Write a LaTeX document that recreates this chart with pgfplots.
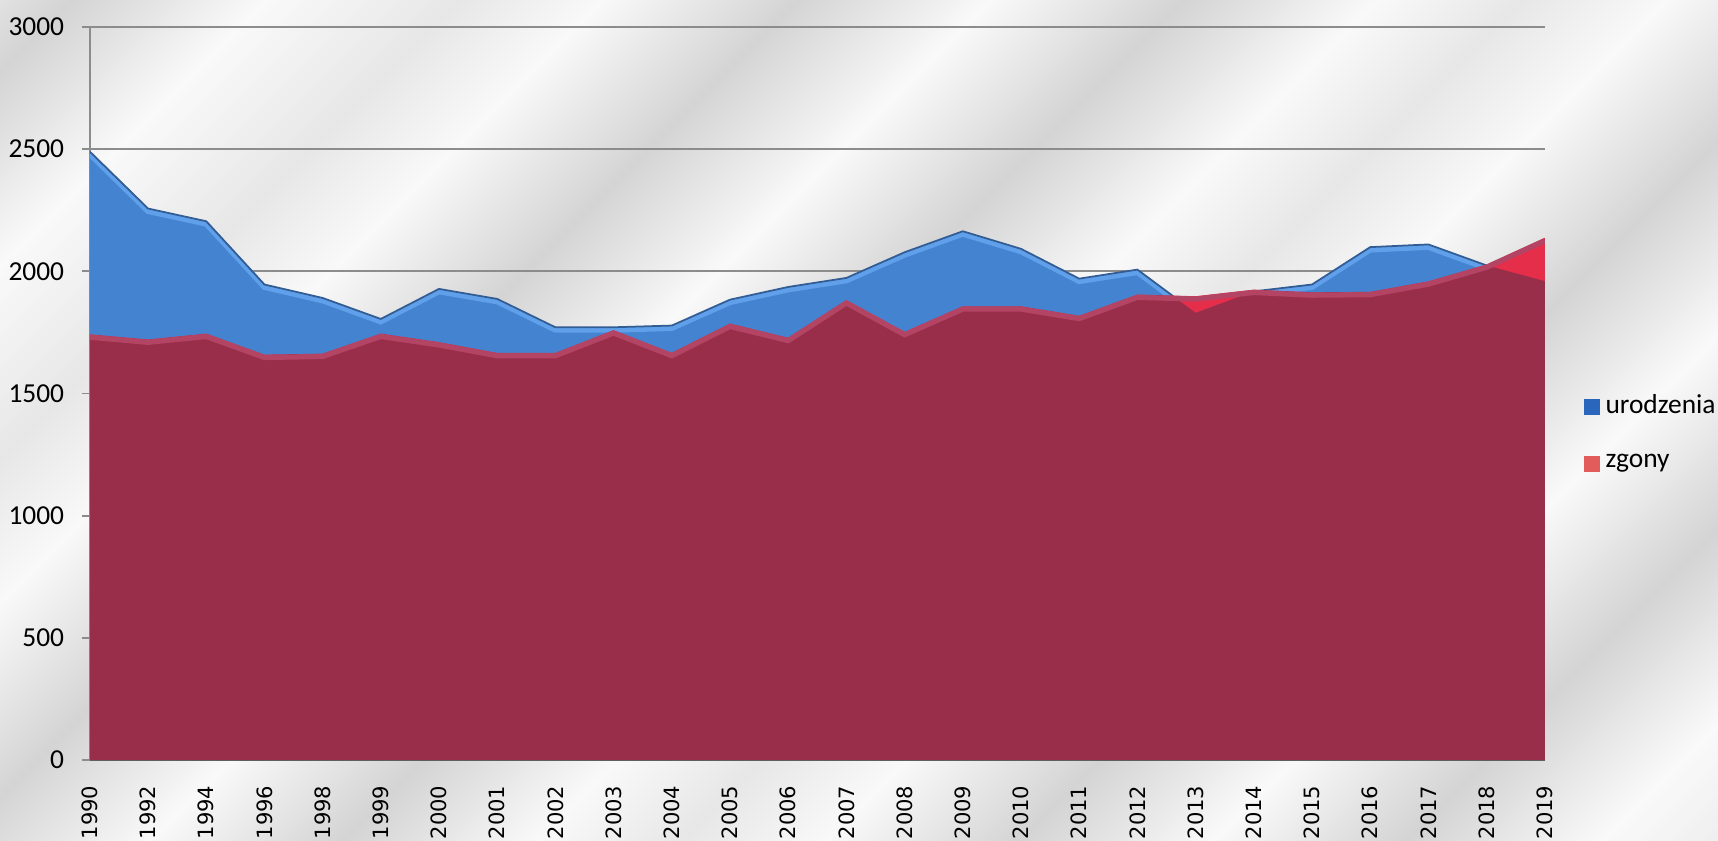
\documentclass[border=0pt]{standalone}
\usepackage{fontspec}
\setmainfont{Carlito}
\newfontfamily\dejavu{DejaVu Sans}
\usepackage{pgfplots}
\usepackage{pgfplotstable}
\pgfplotsset{compat=1.18}

\definecolor{bluearea}{RGB}{67,131,208}
\definecolor{bluehl}{RGB}{96,160,234}
\definecolor{blueedge}{RGB}{50,92,148}
\definecolor{redover}{RGB}{228,46,74}
\definecolor{darkmask}{RGB}{152,255,255}
\definecolor{redhl}{RGB}{180,68,100}
\definecolor{gridgray}{RGB}{140,140,140}
\definecolor{axisdark}{RGB}{95,95,95}
\definecolor{lgblue}{RGB}{42,102,188}
\definecolor{lgred}{RGB}{226,92,92}
\definecolor{bgL}{RGB}{249,249,249}
\definecolor{bgM}{RGB}{231,231,231}
\definecolor{bgD}{RGB}{212,212,212}

\pgfdeclarehorizontalshading{streaks}{100bp}{color(0bp)=(bgM); color(18bp)=(bgM);
  color(21bp)=(bgL); color(25bp)=(bgD); color(29bp)=(bgL); color(33bp)=(bgM);
  color(36bp)=(bgL); color(40bp)=(bgD); color(44bp)=(bgL); color(48bp)=(bgD);
  color(52bp)=(bgL); color(55bp)=(bgM); color(58bp)=(bgL); color(62bp)=(bgD);
  color(66bp)=(bgL); color(70bp)=(bgD); color(74bp)=(bgL); color(78bp)=(bgM);
  color(82bp)=(bgD); color(100bp)=(bgM)}

% urodzenia / zgony, years 1990..2019 as index 0..25
\pgfplotstableread{
x  ur   zg
0  2490 1742
1  2257 1721
2  2205 1745
3  1946 1659
4  1891 1663
5  1805 1745
6  1928 1710
7  1887 1666
8  1771 1666
9  1771 1759
10 1778 1666
11 1884 1786
12 1936 1728
13 1973 1882
14 2078 1752
15 2164 1857
16 2092 1857
17 1970 1818
18 2007 1905
19 1830 1898
20 1918 1925
21 1946 1914
22 2099 1916
23 2110 1959
24 2024 2028
25 1960 2137
}\data

\begin{document}
\begin{tikzpicture}
\begin{scope}
  \clip (0,0) rectangle (17.18,8.41);
  \shade[shading=streaks, shading angle=-45] (0,-4.4) rectangle (17.18,12.8);
\end{scope}
\path[use as bounding box] (0,0) rectangle (17.18,8.41);
\begin{axis}[
    at={(0.898cm,0.81cm)}, anchor=south west,
    width=14.55cm, height=7.33cm, scale only axis,
    xmin=0, xmax=25, ymin=0, ymax=3000,
    xtick=data,
    xticklabels={1990,1992,1994,1996,1998,1999,2000,2001,2002,2003,2004,2005,2006,2007,2008,2009,2010,2011,2012,2013,2014,2015,2016,2017,2018,2019},
    ytick={0,500,1000,1500,2000,2500,3000},
    axis x line*=bottom, axis y line*=left,
    ymajorgrids, grid style={draw=gridgray, line width=0.5pt},
    y axis line style={draw=gridgray, line width=0.5pt},
    x axis line style={draw=axisdark, line width=0.7pt},
    tick align=outside, major tick length=0.08cm,
    ytick style={draw=gridgray, line width=0.5pt},
    xtick style={draw=none},
    /pgf/number format/assume math mode=true,
    /pgf/number format/1000 sep={},
    yticklabel style={font=\fontsize{7.8}{9}\selectfont, anchor=east, inner sep=0pt, xshift=-0.17cm},
    xticklabel style={font=\dejavu\fontsize{6}{7}\selectfont, rotate=90, anchor=east, inner sep=0pt, xshift=-0.17cm},
    legend style={at={(1,0.445)}, anchor=west, xshift=0.38cm, draw=none, fill=none,
      inner sep=0pt, row sep=0.24cm, font=\fontsize{7.8}{9}\selectfont,
      nodes={inner sep=0.6mm}},
    legend cell align=left,
]
% urodzenia
\addplot[fill=bluearea, draw=none,
  legend image code/.code={\fill[lgblue] (0cm,-0.08cm) rectangle (0.16cm,0.08cm);}]
  table[x=x, y=ur] {\data} \closedcycle;
\addlegendentry{urodzenia}
\addplot[forget plot, draw=bluehl, line width=1.5pt, transform canvas={yshift=-0.8pt}]
  table[x=x, y=ur] {\data};
\addplot[forget plot, draw=blueedge, line width=0.5pt] table[x=x, y=ur] {\data};
% zgony
\addplot[fill=redover, draw=none,
  legend image code/.code={\fill[lgred] (0cm,-0.08cm) rectangle (0.16cm,0.08cm);}]
  table[x=x, y=zg] {\data} \closedcycle;
\addlegendentry{zgony}
% overlap of both areas turns maroon
\addplot[forget plot, fill=darkmask, draw=none, blend mode=darken]
  table[x=x, y=ur] {\data} \closedcycle;
\addplot[forget plot, draw=redhl, line width=1.5pt, transform canvas={yshift=-0.8pt}]
  table[x=x, y=zg] {\data};
\end{axis}
\end{tikzpicture}
\end{document}
